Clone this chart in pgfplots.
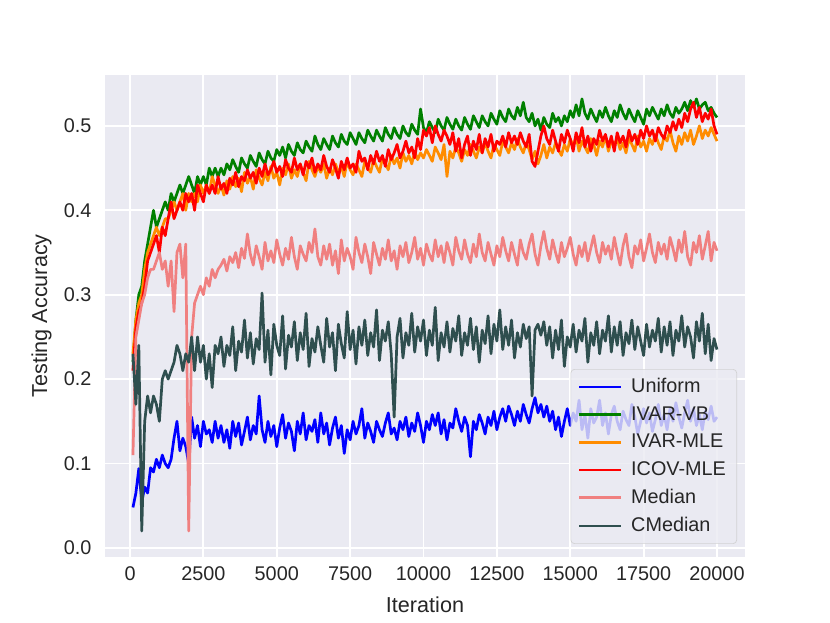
\documentclass[border=0pt]{standalone}
\usepackage{pgfplots}
\usepackage{pgfplotstable}
\usepackage{fontspec}
\setmainfont{Liberation Sans}
\pgfplotsset{compat=1.18}
\definecolor{bgc}{HTML}{EAEAF2}
\definecolor{txt}{HTML}{262626}
\definecolor{cblue}{RGB}{0,0,255}
\definecolor{cgreen}{RGB}{0,128,0}
\definecolor{corange}{RGB}{255,140,0}
\definecolor{cred}{RGB}{255,0,0}
\definecolor{cpink}{RGB}{240,128,128}
\definecolor{cslate}{RGB}{47,79,79}
\pgfplotstableread{
it U VB MLE IC Med CM
100 0.048 0.22 0.23 0.21 0.11 0.23
200 0.065 0.27 0.27 0.26 0.25 0.17
300 0.094 0.30 0.29 0.28 0.27 0.24
400 0.055 0.31 0.30 0.29 0.29 0.02
500 0.072 0.34 0.33 0.31 0.30 0.15
600 0.065 0.36 0.35 0.34 0.32 0.18
700 0.095 0.38 0.36 0.35 0.33 0.16
800 0.090 0.40 0.37 0.36 0.33 0.18
900 0.105 0.38 0.38 0.37 0.34 0.17
1000 0.095 0.39 0.37 0.35 0.35 0.15
1100 0.110 0.40 0.38 0.38 0.33 0.20
1200 0.100 0.41 0.39 0.37 0.34 0.21
1300 0.095 0.40 0.39 0.39 0.31 0.20
1400 0.105 0.42 0.40 0.41 0.34 0.21
1500 0.130 0.41 0.41 0.39 0.28 0.22
1600 0.150 0.42 0.40 0.40 0.35 0.24
1700 0.115 0.43 0.41 0.41 0.36 0.23
1800 0.130 0.42 0.42 0.40 0.32 0.21
1900 0.120 0.43 0.40 0.42 0.36 0.23
2000 0.100 0.44 0.42 0.41 0.02 0.22
2100 0.155 0.43 0.41 0.42 0.25 0.25
2200 0.130 0.42 0.42 0.40 0.29 0.21
2300 0.145 0.44 0.41 0.43 0.30 0.25
2400 0.120 0.43 0.43 0.42 0.31 0.22
2500 0.150 0.44 0.42 0.41 0.30 0.24
2600 0.135 0.43 0.43 0.43 0.32 0.20
2700 0.140 0.45 0.42 0.42 0.31 0.23
2800 0.125 0.44 0.44 0.43 0.33 0.19
2900 0.150 0.45 0.43 0.42 0.32 0.24
3000 0.130 0.44 0.42 0.44 0.33 0.23
3100 0.145 0.450 0.430 0.425 0.335 0.250
3200 0.125 0.442 0.418 0.432 0.342 0.215
3300 0.140 0.455 0.435 0.420 0.328 0.240
3400 0.118 0.448 0.425 0.438 0.345 0.228
3500 0.150 0.460 0.440 0.430 0.338 0.262
3600 0.132 0.452 0.428 0.445 0.350 0.210
3700 0.148 0.445 0.438 0.428 0.332 0.245
3800 0.122 0.462 0.422 0.440 0.355 0.232
3900 0.138 0.455 0.445 0.435 0.343 0.270
4000 0.155 0.450 0.432 0.448 0.372 0.225
4100 0.128 0.465 0.440 0.438 0.348 0.255
4200 0.145 0.458 0.425 0.445 0.335 0.218
4300 0.135 0.452 0.448 0.432 0.358 0.248
4400 0.180 0.468 0.438 0.450 0.345 0.235
4500 0.140 0.460 0.430 0.440 0.330 0.302
4600 0.125 0.455 0.445 0.455 0.362 0.220
4700 0.150 0.470 0.435 0.442 0.340 0.258
4800 0.132 0.462 0.452 0.448 0.352 0.205
4900 0.145 0.458 0.438 0.458 0.338 0.265
5000 0.120 0.472 0.445 0.445 0.365 0.240
5100 0.142 0.465 0.430 0.452 0.348 0.228
5200 0.158 0.475 0.450 0.440 0.335 0.275
5300 0.130 0.462 0.442 0.460 0.355 0.212
5400 0.148 0.478 0.455 0.450 0.342 0.252
5500 0.138 0.470 0.438 0.445 0.368 0.238
5600 0.115 0.465 0.448 0.462 0.345 0.268
5700 0.150 0.480 0.440 0.448 0.330 0.222
5800 0.135 0.472 0.455 0.455 0.358 0.255
5900 0.160 0.468 0.445 0.442 0.348 0.235
6000 0.128 0.482 0.435 0.458 0.340 0.278
6100 0.145 0.475 0.458 0.450 0.362 0.215
6200 0.138 0.470 0.448 0.462 0.350 0.248
6300 0.152 0.488 0.440 0.445 0.378 0.232
6400 0.125 0.478 0.452 0.455 0.345 0.262
6500 0.160 0.472 0.445 0.448 0.335 0.240
6600 0.135 0.485 0.455 0.465 0.358 0.220
6700 0.148 0.478 0.438 0.452 0.342 0.272
6800 0.122 0.472 0.450 0.445 0.360 0.238
6900 0.142 0.488 0.442 0.460 0.335 0.255
7000 0.155 0.480 0.455 0.450 0.352 0.210
7100 0.130 0.475 0.445 0.438 0.325 0.265
7200 0.145 0.490 0.452 0.458 0.365 0.242
7300 0.112 0.482 0.440 0.448 0.340 0.225
7400 0.140 0.478 0.458 0.462 0.355 0.280
7500 0.128 0.492 0.448 0.450 0.345 0.235
7600 0.150 0.485 0.442 0.455 0.330 0.258
7700 0.135 0.478 0.455 0.445 0.368 0.218
7800 0.145 0.492 0.448 0.470 0.350 0.262
7900 0.165 0.485 0.440 0.458 0.338 0.240
8000 0.130 0.480 0.458 0.462 0.360 0.270
8100 0.148 0.495 0.450 0.448 0.345 0.228
8200 0.138 0.488 0.445 0.465 0.325 0.255
8300 0.125 0.482 0.460 0.455 0.362 0.238
8400 0.150 0.495 0.452 0.470 0.348 0.282
8500 0.140 0.488 0.445 0.458 0.335 0.222
8600 0.132 0.482 0.462 0.465 0.355 0.258
8700 0.148 0.498 0.455 0.452 0.342 0.245
8800 0.160 0.490 0.448 0.472 0.365 0.268
8900 0.135 0.485 0.465 0.460 0.340 0.230
9000 0.142 0.498 0.455 0.468 0.352 0.155
9100 0.128 0.490 0.462 0.478 0.330 0.250
9200 0.150 0.485 0.450 0.462 0.358 0.272
9300 0.140 0.500 0.468 0.470 0.345 0.225
9400 0.155 0.492 0.458 0.482 0.362 0.255
9500 0.132 0.488 0.465 0.468 0.338 0.240
9600 0.148 0.502 0.455 0.475 0.350 0.278
9700 0.138 0.495 0.470 0.462 0.368 0.232
9800 0.160 0.490 0.460 0.485 0.342 0.262
9900 0.145 0.520 0.468 0.472 0.355 0.245
10000 0.125 0.498 0.462 0.495 0.335 0.270
10100 0.150 0.492 0.472 0.488 0.360 0.228
10200 0.140 0.505 0.465 0.498 0.348 0.258
10300 0.158 0.498 0.458 0.480 0.340 0.240
10400 0.145 0.492 0.475 0.500 0.365 0.285
10500 0.160 0.508 0.468 0.490 0.345 0.222
10600 0.135 0.500 0.460 0.482 0.358 0.255
10700 0.152 0.495 0.478 0.495 0.338 0.238
10800 0.128 0.510 0.440 0.488 0.362 0.268
10900 0.148 0.502 0.470 0.478 0.350 0.232
11000 0.142 0.496 0.462 0.492 0.335 0.260
11100 0.165 0.508 0.475 0.470 0.368 0.245
11200 0.150 0.500 0.468 0.485 0.352 0.275
11300 0.138 0.495 0.458 0.462 0.342 0.228
11400 0.155 0.510 0.472 0.478 0.365 0.255
11500 0.145 0.502 0.465 0.488 0.348 0.240
11600 0.108 0.496 0.478 0.465 0.338 0.272
11700 0.150 0.512 0.470 0.482 0.360 0.235
11800 0.140 0.505 0.462 0.472 0.345 0.262
11900 0.158 0.498 0.475 0.490 0.372 0.220
12000 0.148 0.512 0.468 0.468 0.350 0.258
12100 0.135 0.505 0.480 0.485 0.340 0.242
12200 0.155 0.500 0.470 0.475 0.362 0.275
12300 0.145 0.515 0.462 0.490 0.348 0.230
12400 0.162 0.508 0.478 0.470 0.335 0.265
12500 0.140 0.502 0.472 0.482 0.358 0.245
12600 0.155 0.518 0.465 0.478 0.345 0.282
12700 0.165 0.510 0.482 0.488 0.368 0.235
12800 0.150 0.505 0.475 0.475 0.352 0.262
12900 0.168 0.520 0.468 0.492 0.340 0.240
13000 0.158 0.512 0.480 0.480 0.362 0.270
13100 0.145 0.508 0.472 0.488 0.348 0.225
13200 0.162 0.522 0.485 0.478 0.335 0.255
13300 0.150 0.512 0.475 0.492 0.365 0.238
13400 0.170 0.528 0.468 0.482 0.350 0.265
13500 0.158 0.510 0.480 0.475 0.342 0.248
13600 0.148 0.505 0.472 0.490 0.360 0.262
13700 0.165 0.515 0.460 0.458 0.372 0.180
13800 0.178 0.500 0.470 0.452 0.348 0.258
13900 0.160 0.508 0.455 0.470 0.335 0.265
14000 0.170 0.495 0.465 0.488 0.358 0.252
14100 0.155 0.510 0.478 0.500 0.375 0.268
14200 0.168 0.502 0.462 0.485 0.355 0.240
14300 0.150 0.498 0.475 0.478 0.342 0.262
14400 0.162 0.515 0.468 0.495 0.365 0.225
14500 0.140 0.505 0.480 0.482 0.350 0.258
14600 0.155 0.510 0.472 0.470 0.338 0.235
14700 0.132 0.500 0.465 0.490 0.362 0.270
14800 0.150 0.512 0.478 0.480 0.345 0.215
14900 0.165 0.505 0.470 0.495 0.355 0.250
15000 0.145 0.518 0.485 0.485 0.368 0.238
15100 0.160 0.510 0.475 0.470 0.348 0.265
15200 0.150 0.525 0.488 0.492 0.335 0.232
15300 0.175 0.512 0.470 0.480 0.358 0.258
15400 0.140 0.532 0.482 0.498 0.345 0.245
15500 0.158 0.515 0.475 0.475 0.362 0.272
15600 0.130 0.508 0.468 0.488 0.340 0.220
15700 0.165 0.520 0.485 0.470 0.355 0.255
15800 0.148 0.512 0.478 0.485 0.370 0.240
15900 0.155 0.505 0.465 0.478 0.350 0.268
16000 0.175 0.518 0.482 0.495 0.338 0.230
16100 0.145 0.510 0.475 0.482 0.362 0.258
16200 0.160 0.522 0.488 0.490 0.348 0.245
16300 0.135 0.512 0.470 0.475 0.358 0.275
16400 0.158 0.505 0.482 0.488 0.342 0.232
16500 0.168 0.518 0.478 0.470 0.368 0.262
16600 0.150 0.510 0.485 0.492 0.350 0.240
16700 0.140 0.525 0.472 0.480 0.335 0.268
16800 0.162 0.515 0.480 0.488 0.358 0.228
16900 0.152 0.508 0.468 0.475 0.372 0.255
17000 0.145 0.520 0.485 0.495 0.345 0.242
17100 0.170 0.512 0.478 0.482 0.332 0.270
17200 0.155 0.505 0.470 0.490 0.358 0.235
17300 0.135 0.518 0.488 0.478 0.348 0.262
17400 0.150 0.510 0.475 0.495 0.365 0.245
17500 0.165 0.502 0.482 0.485 0.340 0.228
17600 0.148 0.520 0.470 0.500 0.355 0.265
17700 0.160 0.512 0.485 0.488 0.372 0.238
17800 0.138 0.522 0.478 0.495 0.350 0.258
17900 0.152 0.515 0.490 0.482 0.338 0.245
18000 0.170 0.508 0.480 0.498 0.362 0.272
18100 0.145 0.520 0.472 0.490 0.348 0.232
18200 0.158 0.512 0.488 0.485 0.360 0.262
18300 0.140 0.525 0.482 0.500 0.342 0.240
18400 0.165 0.515 0.495 0.492 0.368 0.268
18500 0.150 0.510 0.480 0.505 0.355 0.228
18600 0.172 0.522 0.470 0.495 0.340 0.258
18700 0.155 0.515 0.488 0.508 0.365 0.245
18800 0.142 0.520 0.478 0.498 0.350 0.275
18900 0.160 0.528 0.492 0.515 0.375 0.238
19000 0.175 0.518 0.482 0.505 0.345 0.262
19100 0.150 0.530 0.495 0.520 0.335 0.250
19200 0.165 0.522 0.478 0.528 0.362 0.225
19300 0.145 0.532 0.488 0.510 0.350 0.268
19400 0.158 0.520 0.500 0.522 0.370 0.245
19500 0.140 0.525 0.485 0.505 0.342 0.278
19600 0.162 0.528 0.495 0.515 0.358 0.230
19700 0.152 0.518 0.488 0.508 0.375 0.265
19800 0.168 0.522 0.498 0.520 0.340 0.222
19900 0.150 0.515 0.490 0.500 0.362 0.248
20000 0.155 0.510 0.482 0.490 0.352 0.235
}\data
\begin{document}
\begin{tikzpicture}
\path[use as bounding box] (-58.3pt,-36.6pt) rectangle (402.5pt,309.2pt);
\begin{axis}[
  at={(0,0)}, anchor=south west,
  width=355.3pt, height=267.6pt, scale only axis,
  xmin=-852, xmax=20954, ymin=-0.0107, ymax=0.5604,
  axis background/.style={fill=bgc},
  axis line style={draw=none},
  major tick length=0pt,
  grid=major,
  major grid style={white, line width=1pt},
  xtick={0,2500,...,20000},
  ytick={0,0.1,0.2,0.3,0.4,0.5},
  scaled x ticks=false,
  /pgf/number format/assume math mode=true,
  xticklabel style={/pgf/number format/1000 sep={}, font=\fontsize{11}{13}\selectfont, text=txt, yshift=-2pt},
  yticklabel style={/pgf/number format/fixed, /pgf/number format/fixed zerofill, /pgf/number format/precision=1, font=\fontsize{11}{13}\selectfont, text=txt, xshift=-4pt},
  xlabel={Iteration}, ylabel={Testing Accuracy},
  xlabel style={yshift=-2pt},
  label style={font=\fontsize{12}{14}\selectfont, text=txt},
  legend cell align=left,
  legend style={at={(1,0)}, anchor=south east, xshift=-4.4pt, yshift=7.2pt,
    fill=bgc, fill opacity=0.8, draw opacity=0.8, text opacity=1, draw=black!20,
    rounded corners=2pt, font=\fontsize{11}{13}\selectfont, text=txt,
    row sep=2.2pt, inner xsep=4pt, inner ysep=3pt,
    /tikz/every odd column/.style={column sep=3pt}},
  legend image code/.code={\draw[#1, line width=1.5pt, draw opacity=1] (0pt,0pt) -- (23pt,0pt);},
  every axis plot/.append style={line width=1.5pt, line join=round},
]
\addplot[cblue] table[x=it,y=U] {\data};
\addlegendentry{Uniform}
\addplot[cgreen] table[x=it,y=VB] {\data};
\addlegendentry{IVAR-VB}
\addplot[corange] table[x=it,y=MLE] {\data};
\addlegendentry{IVAR-MLE}
\addplot[cred] table[x=it,y=IC] {\data};
\addlegendentry{ICOV-MLE}
\addplot[cpink] table[x=it,y=Med] {\data};
\addlegendentry{Median}
\addplot[cslate] table[x=it,y=CM] {\data};
\addlegendentry{CMedian}
\end{axis}
\end{tikzpicture}
\end{document}
